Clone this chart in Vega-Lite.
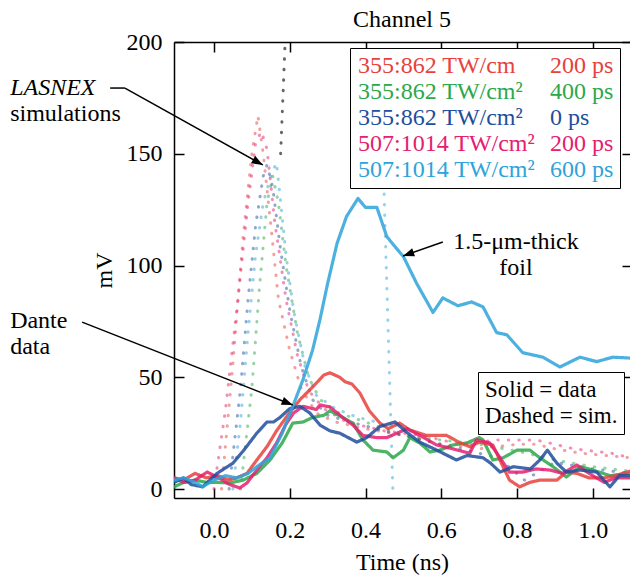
{
  "$schema": "https://vega.github.io/schema/vega-lite/v6.json",
  "width": 456,
  "height": 456,
  "autosize": {"type": "none"},
  "padding": {"left": 174, "top": 42, "right": 0, "bottom": 82},
  "background": "white",
  "title": {"text": "Channel 5", "font": "Liberation Serif", "fontSize": 24, "fontWeight": "normal", "color": "black", "anchor": "middle", "offset": -2},
  "config": {
    "font": "Liberation Serif",
    "view": {"stroke": null},
    "axis": {
      "domainColor": "black", "domainWidth": 1.5, "tickColor": "black", "tickWidth": 1.5, "tickSize": -10,
      "grid": false, "labelFont": "Liberation Serif", "labelFontSize": 24, "labelColor": "black",
      "titleFont": "Liberation Serif", "titleFontSize": 24, "titleFontWeight": "normal", "titleColor": "black"
    }
  },
  "datasets": {
    "measured": [
      {"series":"B","time":-0.105,"mV":1},{"series":"B","time":-0.08,"mV":3},{"series":"B","time":-0.05,"mV":4},{"series":"B","time":-0.02,"mV":3},{"series":"B","time":0.008,"mV":3},{"series":"B","time":0.042,"mV":2.7},{"series":"B","time":0.077,"mV":4},{"series":"B","time":0.113,"mV":7},{"series":"B","time":0.148,"mV":13},{"series":"B","time":0.18,"mV":20.6},{"series":"B","time":0.208,"mV":29.5},{"series":"B","time":0.235,"mV":30},{"series":"B","time":0.26,"mV":32},{"series":"B","time":0.29,"mV":33},{"series":"B","time":0.306,"mV":35},{"series":"B","time":0.34,"mV":32},{"series":"B","time":0.367,"mV":29.5},{"series":"B","time":0.393,"mV":22},{"series":"B","time":0.42,"mV":17.4},{"series":"B","time":0.456,"mV":16.6},{"series":"B","time":0.473,"mV":14},{"series":"B","time":0.5,"mV":17.4},{"series":"B","time":0.517,"mV":23},{"series":"B","time":0.543,"mV":20.6},{"series":"B","time":0.57,"mV":16.6},{"series":"B","time":0.596,"mV":17.4},{"series":"B","time":0.63,"mV":19.7},{"series":"B","time":0.667,"mV":20.6},{"series":"B","time":0.7,"mV":23},{"series":"B","time":0.71,"mV":22},{"series":"B","time":0.736,"mV":13},{"series":"B","time":0.763,"mV":14},{"series":"B","time":0.8,"mV":17.4},{"series":"B","time":0.834,"mV":17.4},{"series":"B","time":0.86,"mV":14},{"series":"B","time":0.895,"mV":10},{"series":"B","time":0.93,"mV":5.4},{"series":"B","time":0.966,"mV":10},{"series":"B","time":1.0,"mV":8.5},{"series":"B","time":1.045,"mV":6},{"series":"B","time":1.098,"mV":7},
      {"series":"A","time":-0.105,"mV":5},{"series":"A","time":-0.08,"mV":4},{"series":"A","time":-0.05,"mV":7},{"series":"A","time":-0.02,"mV":5},{"series":"A","time":0.01,"mV":6},{"series":"A","time":0.04,"mV":4},{"series":"A","time":0.06,"mV":5},{"series":"A","time":0.087,"mV":7},{"series":"A","time":0.113,"mV":13},{"series":"A","time":0.14,"mV":19},{"series":"A","time":0.165,"mV":26},{"series":"A","time":0.19,"mV":32},{"series":"A","time":0.227,"mV":40},{"series":"A","time":0.26,"mV":45.6},{"series":"A","time":0.29,"mV":51},{"series":"A","time":0.306,"mV":52},{"series":"A","time":0.332,"mV":50},{"series":"A","time":0.346,"mV":48},{"series":"A","time":0.364,"mV":47},{"series":"A","time":0.385,"mV":43},{"series":"A","time":0.41,"mV":35},{"series":"A","time":0.438,"mV":29.5},{"series":"A","time":0.46,"mV":27},{"series":"A","time":0.49,"mV":29.5},{"series":"A","time":0.517,"mV":26.4},{"series":"A","time":0.56,"mV":24},{"series":"A","time":0.614,"mV":24},{"series":"A","time":0.65,"mV":20.6},{"series":"A","time":0.675,"mV":19},{"series":"A","time":0.7,"mV":21},{"series":"A","time":0.736,"mV":19.7},{"series":"A","time":0.763,"mV":10},{"series":"A","time":0.78,"mV":4},{"series":"A","time":0.807,"mV":1},{"series":"A","time":0.834,"mV":3},{"series":"A","time":0.86,"mV":4},{"series":"A","time":0.905,"mV":4},{"series":"A","time":0.93,"mV":7.6},{"series":"A","time":0.958,"mV":7},{"series":"A","time":0.99,"mV":5},{"series":"A","time":1.03,"mV":5},{"series":"A","time":1.06,"mV":6},{"series":"A","time":1.098,"mV":8},
      {"series":"D","time":-0.105,"mV":5},{"series":"D","time":-0.08,"mV":3},{"series":"D","time":-0.05,"mV":4},{"series":"D","time":-0.018,"mV":7.6},{"series":"D","time":0.008,"mV":5.4},{"series":"D","time":0.042,"mV":2},{"series":"D","time":0.068,"mV":0.5},{"series":"D","time":0.087,"mV":2.7},{"series":"D","time":0.113,"mV":8.5},{"series":"D","time":0.14,"mV":14},{"series":"D","time":0.165,"mV":20.6},{"series":"D","time":0.19,"mV":29},{"series":"D","time":0.21,"mV":34},{"series":"D","time":0.235,"mV":37},{"series":"D","time":0.27,"mV":35.6},{"series":"D","time":0.28,"mV":37.6},{"series":"D","time":0.306,"mV":36.7},{"series":"D","time":0.34,"mV":32},{"series":"D","time":0.367,"mV":28.6},{"series":"D","time":0.393,"mV":24},{"series":"D","time":0.43,"mV":23},{"series":"D","time":0.456,"mV":23},{"series":"D","time":0.483,"mV":25},{"series":"D","time":0.51,"mV":27},{"series":"D","time":0.543,"mV":24},{"series":"D","time":0.588,"mV":19.7},{"series":"D","time":0.63,"mV":18},{"series":"D","time":0.675,"mV":16},{"series":"D","time":0.693,"mV":22},{"series":"D","time":0.728,"mV":20.6},{"series":"D","time":0.755,"mV":14},{"series":"D","time":0.78,"mV":7.6},{"series":"D","time":0.815,"mV":7.6},{"series":"D","time":0.85,"mV":9},{"series":"D","time":0.887,"mV":8.5},{"series":"D","time":0.92,"mV":7},{"series":"D","time":0.958,"mV":10.7},{"series":"D","time":0.99,"mV":7},{"series":"D","time":1.03,"mV":3},{"series":"D","time":1.06,"mV":5},{"series":"D","time":1.098,"mV":5},
      {"series":"C","time":-0.105,"mV":3},{"series":"C","time":-0.08,"mV":5},{"series":"C","time":-0.06,"mV":2},{"series":"C","time":-0.03,"mV":1},{"series":"C","time":0.008,"mV":7},{"series":"C","time":0.05,"mV":11.6},{"series":"C","time":0.077,"mV":17},{"series":"C","time":0.113,"mV":25},{"series":"C","time":0.14,"mV":30},{"series":"C","time":0.157,"mV":30},{"series":"C","time":0.174,"mV":32},{"series":"C","time":0.2,"mV":36},{"series":"C","time":0.227,"mV":37},{"series":"C","time":0.253,"mV":34},{"series":"C","time":0.28,"mV":28.6},{"series":"C","time":0.306,"mV":26},{"series":"C","time":0.332,"mV":25},{"series":"C","time":0.377,"mV":21},{"series":"C","time":0.403,"mV":23},{"series":"C","time":0.438,"mV":28},{"series":"C","time":0.478,"mV":30},{"series":"C","time":0.508,"mV":25.5},{"series":"C","time":0.543,"mV":21},{"series":"C","time":0.588,"mV":17.4},{"series":"C","time":0.64,"mV":13},{"series":"C","time":0.668,"mV":15},{"series":"C","time":0.71,"mV":14},{"series":"C","time":0.73,"mV":11.6},{"series":"C","time":0.755,"mV":7.6},{"series":"C","time":0.79,"mV":10},{"series":"C","time":0.835,"mV":9},{"series":"C","time":0.86,"mV":13},{"series":"C","time":0.88,"mV":17.4},{"series":"C","time":0.905,"mV":11.6},{"series":"C","time":0.93,"mV":7.6},{"series":"C","time":0.966,"mV":8.5},{"series":"C","time":1.01,"mV":7.6},{"series":"C","time":1.045,"mV":1},{"series":"C","time":1.07,"mV":6},{"series":"C","time":1.098,"mV":6},
      {"series":"E","time":-0.105,"mV":4},{"series":"E","time":-0.08,"mV":5},{"series":"E","time":-0.05,"mV":3},{"series":"E","time":-0.03,"mV":1},{"series":"E","time":0.0,"mV":4},{"series":"E","time":0.03,"mV":6},{"series":"E","time":0.06,"mV":5},{"series":"E","time":0.09,"mV":7},{"series":"E","time":0.113,"mV":10},{"series":"E","time":0.148,"mV":14},{"series":"E","time":0.18,"mV":25},{"series":"E","time":0.208,"mV":37},{"series":"E","time":0.235,"mV":49},{"series":"E","time":0.26,"mV":62},{"series":"E","time":0.28,"mV":76},{"series":"E","time":0.3,"mV":92},{"series":"E","time":0.325,"mV":110},{"series":"E","time":0.35,"mV":122},{"series":"E","time":0.38,"mV":130},{"series":"E","time":0.4,"mV":126},{"series":"E","time":0.43,"mV":126},{"series":"E","time":0.456,"mV":113},{"series":"E","time":0.475,"mV":109},{"series":"E","time":0.5,"mV":104},{"series":"E","time":0.535,"mV":92},{"series":"E","time":0.578,"mV":79},{"series":"E","time":0.604,"mV":85.5},{"series":"E","time":0.644,"mV":82},{"series":"E","time":0.68,"mV":83.7},{"series":"E","time":0.71,"mV":81.5},{"series":"E","time":0.746,"mV":70},{"series":"E","time":0.773,"mV":69},{"series":"E","time":0.815,"mV":61},{"series":"E","time":0.868,"mV":59},{"series":"E","time":0.913,"mV":54.6},{"series":"E","time":0.966,"mV":59},{"series":"E","time":1.01,"mV":57},{"series":"E","time":1.053,"mV":59},{"series":"E","time":1.098,"mV":58.6}
    ],
    "simulated": [
      {"series":"A","seg":"1","time":0.02,"mV":0},{"series":"A","seg":"1","time":0.05,"mV":56},{"series":"A","seg":"1","time":0.077,"mV":113},{"series":"A","seg":"1","time":0.1,"mV":150},{"series":"A","seg":"1","time":0.116,"mV":167},{"series":"A","seg":"1","time":0.13,"mV":150},{"series":"A","seg":"1","time":0.15,"mV":118},{"series":"A","seg":"1","time":0.17,"mV":85},{"series":"A","seg":"1","time":0.2,"mV":62},{"series":"A","seg":"1","time":0.23,"mV":45},{"series":"A","seg":"1","time":0.27,"mV":34},{"series":"A","seg":"1","time":0.32,"mV":30},{"series":"A","seg":"1","time":0.4,"mV":27},{"series":"A","seg":"1","time":0.5,"mV":24},{"series":"A","seg":"1","time":0.6,"mV":20},{"series":"A","seg":"1","time":0.7,"mV":18},{"series":"A","seg":"1","time":0.8,"mV":20},{"series":"A","seg":"1","time":0.85,"mV":20},{"series":"A","seg":"1","time":0.9,"mV":18},{"series":"A","seg":"1","time":0.97,"mV":16},{"series":"A","seg":"1","time":1.1,"mV":14},
      {"series":"B","seg":"1","time":0.07,"mV":0},{"series":"B","seg":"1","time":0.1,"mV":45},{"series":"B","seg":"1","time":0.12,"mV":90},{"series":"B","seg":"1","time":0.14,"mV":128},{"series":"B","seg":"1","time":0.155,"mV":140},{"series":"B","seg":"1","time":0.17,"mV":128},{"series":"B","seg":"1","time":0.19,"mV":100},{"series":"B","seg":"1","time":0.22,"mV":70},{"series":"B","seg":"1","time":0.25,"mV":50},{"series":"B","seg":"1","time":0.28,"mV":40},{"series":"B","seg":"1","time":0.33,"mV":34},{"series":"B","seg":"1","time":0.4,"mV":30},{"series":"B","seg":"1","time":0.5,"mV":24},{"series":"B","seg":"1","time":0.6,"mV":22},{"series":"B","seg":"1","time":0.7,"mV":20},{"series":"B","seg":"1","time":0.8,"mV":17},{"series":"B","seg":"1","time":0.9,"mV":13},{"series":"B","seg":"1","time":1.0,"mV":10},{"series":"B","seg":"1","time":1.1,"mV":8},
      {"series":"C","seg":"1","time":0.04,"mV":0},{"series":"C","seg":"1","time":0.07,"mV":45},{"series":"C","seg":"1","time":0.09,"mV":85},{"series":"C","seg":"1","time":0.11,"mV":118},{"series":"C","seg":"1","time":0.13,"mV":140},{"series":"C","seg":"1","time":0.14,"mV":145},{"series":"C","seg":"1","time":0.155,"mV":135},{"series":"C","seg":"1","time":0.175,"mV":108},{"series":"C","seg":"1","time":0.2,"mV":80},{"series":"C","seg":"1","time":0.23,"mV":55},{"series":"C","seg":"1","time":0.26,"mV":40},{"series":"C","seg":"1","time":0.3,"mV":33},{"series":"C","seg":"1","time":0.36,"mV":30},{"series":"C","seg":"1","time":0.45,"mV":26},{"series":"C","seg":"1","time":0.55,"mV":22},{"series":"C","seg":"1","time":0.65,"mV":18},{"series":"C","seg":"1","time":0.75,"mV":14},{"series":"C","seg":"1","time":0.82,"mV":4},{"series":"C","seg":"1","time":0.9,"mV":12},{"series":"C","seg":"1","time":1.0,"mV":9},{"series":"C","seg":"1","time":1.1,"mV":7},
      {"series":"D","seg":"1","time":0.0,"mV":0},{"series":"D","seg":"1","time":0.03,"mV":35},{"series":"D","seg":"1","time":0.06,"mV":80},{"series":"D","seg":"1","time":0.09,"mV":128},{"series":"D","seg":"1","time":0.11,"mV":155},{"series":"D","seg":"1","time":0.125,"mV":160},{"series":"D","seg":"1","time":0.14,"mV":152},{"series":"D","seg":"1","time":0.16,"mV":120},{"series":"D","seg":"1","time":0.19,"mV":85},{"series":"D","seg":"1","time":0.22,"mV":60},{"series":"D","seg":"1","time":0.25,"mV":44},{"series":"D","seg":"1","time":0.29,"mV":36},{"series":"D","seg":"1","time":0.35,"mV":30},{"series":"D","seg":"1","time":0.45,"mV":26},{"series":"D","seg":"1","time":0.55,"mV":24},{"series":"D","seg":"1","time":0.65,"mV":20},{"series":"D","seg":"1","time":0.75,"mV":22},{"series":"D","seg":"1","time":0.85,"mV":22},{"series":"D","seg":"1","time":0.95,"mV":18},{"series":"D","seg":"1","time":1.05,"mV":16},{"series":"D","seg":"1","time":1.1,"mV":14},
      {"series":"E","seg":"1","time":0.05,"mV":0},{"series":"E","seg":"1","time":0.07,"mV":30},{"series":"E","seg":"1","time":0.09,"mV":70},{"series":"E","seg":"1","time":0.11,"mV":105},{"series":"E","seg":"1","time":0.13,"mV":128},{"series":"E","seg":"1","time":0.15,"mV":140},{"series":"E","seg":"1","time":0.165,"mV":146},{"series":"E","seg":"1","time":0.175,"mV":130},{"series":"E","seg":"1","time":0.19,"mV":105},{"series":"E","seg":"1","time":0.21,"mV":80},{"series":"E","seg":"1","time":0.24,"mV":55},{"series":"E","seg":"1","time":0.27,"mV":42},{"series":"E","seg":"1","time":0.32,"mV":36},{"series":"E","seg":"1","time":0.38,"mV":32},{"series":"E","seg":"1","time":0.43,"mV":30},
      {"series":"E","seg":"2","time":0.449,"mV":132},{"series":"E","seg":"2","time":0.472,"mV":0}
    ],
    "simBlack": [
      {"time":0.176,"mV":150},{"time":0.189,"mV":205}
    ],
    "notesLeft": [
      {"label":"simulations","time":-0.538,"mV":167.8},
      {"label":"Dante","time":-0.538,"mV":75.2},
      {"label":"data","time":-0.538,"mV":63.5}
    ],
    "notesItalic": [
      {"label":"LASNEX","time":-0.538,"mV":179.4}
    ],
    "notesCenter": [
      {"label":"1.5-μm-thick","time":0.797,"mV":110.5},
      {"label":"foil","time":0.797,"mV":98.9}
    ],
    "arrowLines": [
      {"time":-0.274,"mV":179.4,"time2":-0.235,"mV2":179.4},
      {"time":-0.235,"mV":179.4,"time2":0.129,"mV2":145.0},
      {"time":-0.348,"mV":74.7,"time2":0.208,"mV2":37.6},
      {"time":0.604,"mV":110.5,"time2":0.499,"mV2":104.3}
    ],
    "arrowHeads": [
      {"time":0.129,"mV":145.0,"angle":119.2},
      {"time":0.208,"mV":37.6,"angle":111.5},
      {"time":0.499,"mV":104.3,"angle":250.7}
    ]
  },
  "layer": [
    {
      "data": {"name": "simulated"},
      "mark": {"type": "line", "strokeWidth": 3, "strokeCap": "round", "opacity": 0.5, "clip": true},
      "encoding": {
        "x": {"field": "time", "type": "quantitative", "scale": {"domain": [-0.1055, 1.098], "nice": false, "zero": false},
              "axis": {"orient": "top", "values": [0, 0.2, 0.4, 0.6, 0.8, 1.0], "labels": false, "title": null}},
        "y": {"field": "mV", "type": "quantitative", "scale": {"domain": [-4, 200], "nice": false, "zero": false},
              "axis": {"orient": "right", "values": [0, 50, 100, 150, 200], "labels": false, "title": null, "domain": false, "tickSize": -8}},
        "color": {"field": "series", "type": "nominal"},
        "strokeDash": {"datum": "sim"},
        "detail": {"field": "seg"}
      }
    },
    {
      "data": {"name": "simBlack"},
      "mark": {"type": "line", "strokeWidth": 3, "strokeCap": "round", "color": "#333333", "opacity": 0.75, "strokeDash": [0.5, 10], "clip": true},
      "encoding": {
        "x": {"field": "time", "type": "quantitative", "scale": {"domain": [-0.1055, 1.098], "nice": false, "zero": false}, "axis": null},
        "y": {"field": "mV", "type": "quantitative", "scale": {"domain": [-4, 200], "nice": false, "zero": false}, "axis": null}
      }
    },
    {
      "data": {"name": "measured"},
      "mark": {"type": "line", "strokeWidth": 3.2, "strokeCap": "round", "strokeJoin": "round", "opacity": 0.85, "clip": true},
      "encoding": {
        "x": {"field": "time", "type": "quantitative", "scale": {"domain": [-0.1055, 1.098], "nice": false, "zero": false},
              "axis": {"orient": "bottom", "values": [0, 0.2, 0.4, 0.6, 0.8, 1.0], "format": ".1f", "labelPadding": 30, "title": "Time (ns)", "titlePadding": 8}},
        "y": {"field": "mV", "type": "quantitative", "scale": {"domain": [-4, 200], "nice": false, "zero": false},
              "axis": {"orient": "left", "values": [0, 50, 100, 150, 200], "labelPadding": 22, "title": "mV", "titlePadding": 10}},
        "color": {
          "field": "series", "type": "nominal",
          "scale": {"domain": ["A","Aps","B","Bps","C","Cps","D","Dps","E","Eps"],
                    "range": ["#e8413c","#e8413c","#2ca84a","#2ca84a","#1f4e9c","#1f4e9c","#e5206f","#e5206f","#2ea3da","#2ea3da"]},
          "legend": {
            "orient": "none", "legendX": 176, "legendY": 6, "columns": 2, "columnPadding": 12, "rowPadding": 2,
            "values": ["A","B","C","D","E","Aps","Bps","Cps","Dps","Eps"],
            "symbolSize": 1, "symbolStrokeWidth": 0, "symbolOpacity": 0, "labelOffset": -22,
            "labelFont": "Liberation Serif", "labelFontSize": 24, "labelLimit": 400,
            "fillColor": "white", "strokeColor": "black", "padding": 6, "title": null,
            "labelExpr": "datum.value=='A'?'355:862 TW/cm':datum.value=='Aps'?'200 ps':datum.value=='B'?'355:862 TW/cm²':datum.value=='Bps'?'400 ps':datum.value=='C'?'355:862 TW/cm²':datum.value=='Cps'?'0 ps':datum.value=='D'?'507:1014 TW/cm²':datum.value=='Dps'?'200 ps':datum.value=='E'?'507:1014 TW/cm²':'600 ps'",
            "encode": {"labels": {"update": {"fill": {"scale": "color", "field": "value"}}}}
          }
        },
        "strokeDash": {
          "datum": "data",
          "scale": {"domain": ["data", "sim"], "range": [[1, 0], [0.5, 10]]},
          "legend": {
            "orient": "none", "legendX": 304, "legendY": 330, "rowPadding": 2,
            "symbolSize": 1, "symbolStrokeWidth": 0, "symbolOpacity": 0, "labelOffset": -22,
            "labelFont": "Liberation Serif", "labelFontSize": 23, "labelColor": "black", "labelLimit": 300,
            "fillColor": "white", "strokeColor": "black", "padding": 6, "title": null,
            "labelExpr": "datum.value=='data'?'Solid = data':'Dashed = sim.'"
          }
        }
      }
    },
    {
      "data": {"name": "arrowLines"},
      "mark": {"type": "rule", "color": "black", "strokeWidth": 1.5, "clip": false},
      "encoding": {
        "x": {"field": "time", "type": "quantitative", "scale": {"domain": [-0.1055, 1.098], "nice": false, "zero": false}, "axis": null},
        "y": {"field": "mV", "type": "quantitative", "scale": {"domain": [-4, 200], "nice": false, "zero": false}, "axis": null},
        "x2": {"field": "time2"},
        "y2": {"field": "mV2"}
      }
    },
    {
      "data": {"name": "arrowHeads"},
      "mark": {"type": "point", "shape": "M0,0L-0.38,1L0.38,1Z", "filled": true, "color": "black", "opacity": 1, "size": 500, "clip": false},
      "encoding": {
        "x": {"field": "time", "type": "quantitative", "scale": {"domain": [-0.1055, 1.098], "nice": false, "zero": false}, "axis": null},
        "y": {"field": "mV", "type": "quantitative", "scale": {"domain": [-4, 200], "nice": false, "zero": false}, "axis": null},
        "angle": {"field": "angle", "type": "quantitative", "scale": null}
      }
    },
    {
      "data": {"name": "notesLeft"},
      "mark": {"type": "text", "align": "left", "baseline": "middle", "font": "Liberation Serif", "fontSize": 24, "color": "black", "clip": false},
      "encoding": {
        "x": {"field": "time", "type": "quantitative", "scale": {"domain": [-0.1055, 1.098], "nice": false, "zero": false}, "axis": null},
        "y": {"field": "mV", "type": "quantitative", "scale": {"domain": [-4, 200], "nice": false, "zero": false}, "axis": null},
        "text": {"field": "label"}
      }
    },
    {
      "data": {"name": "notesItalic"},
      "mark": {"type": "text", "align": "left", "baseline": "middle", "font": "Liberation Serif", "fontStyle": "italic", "fontSize": 24, "color": "black", "clip": false},
      "encoding": {
        "x": {"field": "time", "type": "quantitative", "scale": {"domain": [-0.1055, 1.098], "nice": false, "zero": false}, "axis": null},
        "y": {"field": "mV", "type": "quantitative", "scale": {"domain": [-4, 200], "nice": false, "zero": false}, "axis": null},
        "text": {"field": "label"}
      }
    },
    {
      "data": {"name": "notesCenter"},
      "mark": {"type": "text", "align": "center", "baseline": "middle", "font": "Liberation Serif", "fontSize": 24, "color": "black", "clip": false},
      "encoding": {
        "x": {"field": "time", "type": "quantitative", "scale": {"domain": [-0.1055, 1.098], "nice": false, "zero": false}, "axis": null},
        "y": {"field": "mV", "type": "quantitative", "scale": {"domain": [-4, 200], "nice": false, "zero": false}, "axis": null},
        "text": {"field": "label"}
      }
    }
  ],
  "resolve": {"axis": {"x": "independent", "y": "independent"}}
}
